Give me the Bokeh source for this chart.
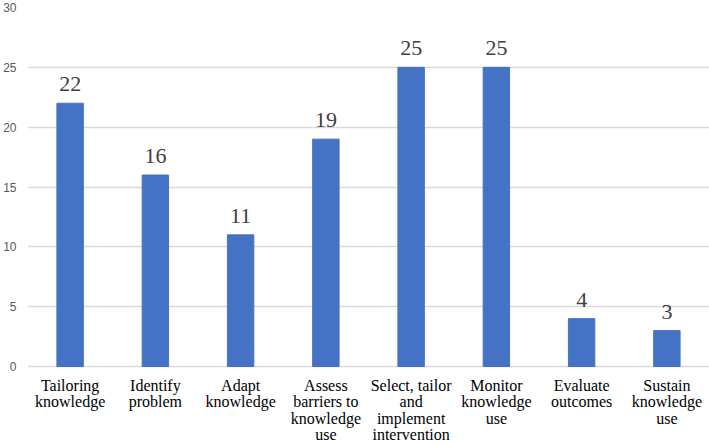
from bokeh.plotting import figure
from bokeh.models import ColumnDataSource, FixedTicker, Range1d
from bokeh.embed import file_html
from bokeh.resources import INLINE
from bokeh.core.properties import value

categories = [
    "Tailoring\nknowledge",
    "Identify\nproblem",
    "Adapt\nknowledge",
    "Assess\nbarriers to\nknowledge\nuse",
    "Select, tailor\nand\nimplement\nintervention",
    "Monitor\nknowledge\nuse",
    "Evaluate\noutcomes",
    "Sustain\nknowledge\nuse",
]
counts = [22, 16, 11, 19, 25, 25, 4, 3]
y_ticks = [0, 5, 10, 15, 20, 25, 30]

W, H = 709, 445
TOP = 7            # px above the 30 gridline
ZERO_PX = 366      # page row of the 0 gridline
ppu = (ZERO_PX - TOP) / 30.0          # pixels per count unit
below_units = (H - ZERO_PX) / ppu     # room under 0 for the category labels

src = ColumnDataSource(dict(cat=categories, n=counts, lab=[str(v) for v in counts]))

p = figure(x_range=categories, y_range=Range1d(-below_units, 30), width=W, height=H,
           output_backend="svg", toolbar_location=None, x_axis_location=None,
           min_border_left=27, min_border_right=0, min_border_top=TOP, min_border_bottom=0)
p.outline_line_color = None
p.background_fill_color = "white"
p.border_fill_color = "white"

p.vbar(x="cat", top="n", width=0.31, source=src, color="#4472C4")
p.text(x="cat", y="n", text="lab", source=src, text_align="center",
       text_baseline="alphabetic", y_offset=-19,
       text_font=value("Liberation Serif"), text_font_size="22px",
       text_color="#404040")

p.xgrid.grid_line_color = None
p.ygrid.grid_line_color = "#d9d9d9"
p.ygrid.grid_line_width = 1.3

p.yaxis.ticker = FixedTicker(ticks=y_ticks)
p.yaxis.axis_line_color = None
p.yaxis.major_tick_line_color = None
p.yaxis.minor_tick_line_color = None
p.yaxis.major_tick_out = 6
p.yaxis.major_label_text_font = "Liberation Sans"
p.yaxis.major_label_text_font_size = "12px"
p.yaxis.major_label_text_color = "#595959"
p.yaxis.major_label_standoff = 5

# category labels: one row per text line, stacked under the 0 line
line_px = 16.4
first_px = 19.0
line_cat, line_txt, line_y = [], [], []
for c in categories:
    for k, t in enumerate(c.split("\n")):
        line_cat.append(c)
        line_txt.append(t)
        line_y.append(-(first_px + k * line_px) / ppu)
lsrc = ColumnDataSource(dict(cat=line_cat, t=line_txt, y=line_y))
p.text(x="cat", y="y", text="t", source=lsrc, text_align="center",
       text_baseline="alphabetic", text_font=value("Liberation Serif"),
       text_font_size="16px", text_color="#000000")

open("out.html", "w").write(file_html(p, INLINE))
